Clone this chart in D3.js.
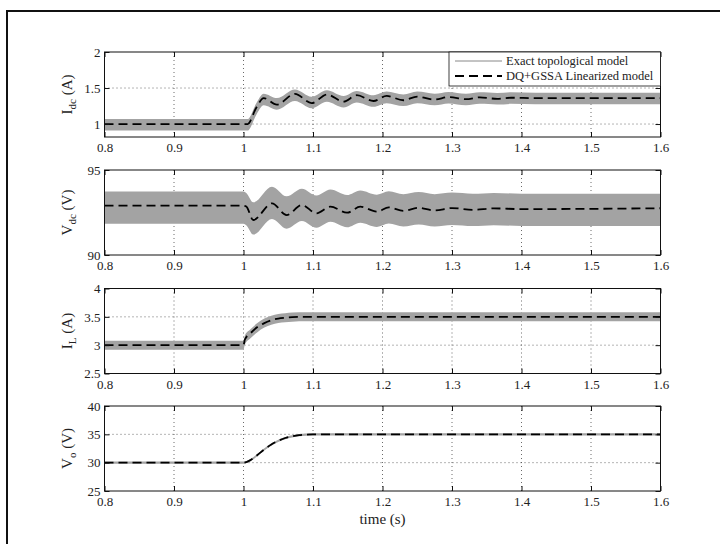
<!DOCTYPE html>
<html>
<head>
<meta charset="utf-8">
<script src="https://cdn.jsdelivr.net/npm/d3@7"></script>
<style>
    html, body { margin: 0; padding: 0; background: #fff; }
    svg { display: block; font-family: "Liberation Serif", "Times New Roman", serif; }
</style>
</head>
<body>
<div id="chart"></div>
<script>
/*
 * Shared time axis.
 */
var timeDomain = [0.8, 1.6];
var timeTicks  = [0.8, 0.9, 1.0, 1.1, 1.2, 1.3, 1.4, 1.5, 1.6];
var legendLabels = ['Exact topological model', 'DQ+GSSA Linearized model'];

/*
 * I_dc panel (A).
 */
var idcDomain = [0.82, 2];
var idcTicks  = [1, 1.5, 2];
var idcTime   = [0.8, 1.0, 1.006, 1.018, 1.029, 1.048, 1.074, 1.098, 1.12, 1.144, 1.163, 1.187, 1.206, 1.23, 1.25, 1.275, 1.295, 1.32, 1.34, 1.365, 1.385, 1.42, 1.6];
var idcModel  = [1.0, 1.0, 1.0, 1.22, 1.36, 1.27, 1.42, 1.29, 1.41, 1.31, 1.40, 1.32, 1.39, 1.33, 1.38, 1.34, 1.375, 1.345, 1.37, 1.35, 1.365, 1.36, 1.36];
var idcExact  = [0.99, 0.99, 0.99, 1.2, 1.34, 1.28, 1.4, 1.3, 1.39, 1.31, 1.38, 1.32, 1.37, 1.33, 1.37, 1.34, 1.365, 1.34, 1.36, 1.35, 1.36, 1.355, 1.355];
var idcRipple = 0.08;

/*
 * V_dc panel (V).
 */
var vdcDomain = [90, 95];
var vdcTicks  = [90, 95];
var vdcTime   = [0.8, 1.0, 1.004, 1.014, 1.041, 1.062, 1.084, 1.105, 1.125, 1.149, 1.168, 1.192, 1.209, 1.23, 1.252, 1.275, 1.3, 1.33, 1.36, 1.4, 1.6];
var vdcModel  = [92.9, 92.9, 92.85, 92.06, 93.04, 92.35, 92.94, 92.45, 92.84, 92.49, 92.84, 92.55, 92.8, 92.6, 92.78, 92.62, 92.76, 92.66, 92.74, 92.7, 92.75];
var vdcExact  = [92.79, 92.79, 92.7, 92.15, 93.07, 92.5, 92.95, 92.55, 92.9, 92.58, 92.85, 92.6, 92.8, 92.62, 92.75, 92.63, 92.72, 92.65, 92.7, 92.66, 92.66];
var vdcRipple = 0.95;

/*
 * I_L panel (A).
 */
var ilDomain = [2.5, 4];
var ilTicks  = [2.5, 3, 3.5, 4];
var ilTime   = [0.8, 1.0, 1.002, 1.01, 1.02, 1.03, 1.04, 1.05, 1.06, 1.07, 1.09, 1.6];
var ilModel  = [3.0, 3.0, 3.1, 3.21, 3.32, 3.39, 3.44, 3.47, 3.485, 3.495, 3.5, 3.5];
var ilExact  = [3.0, 3.0, 3.09, 3.2, 3.31, 3.39, 3.44, 3.47, 3.485, 3.495, 3.5, 3.5];
var ilRipple = 0.08;

/*
 * V_o panel (V).
 */
var voDomain = [25, 40];
var voTicks  = [25, 30, 35, 40];
var voTime   = [0.8, 1.0, 1.01, 1.02, 1.03, 1.04, 1.05, 1.06, 1.07, 1.08, 1.09, 1.1, 1.6];
var voModel  = [30, 30, 30.45, 31.35, 32.35, 33.2, 33.85, 34.35, 34.65, 34.85, 34.95, 35, 35];
var voExact  = [30, 30, 30.45, 31.35, 32.35, 33.2, 33.85, 34.35, 34.65, 34.85, 34.95, 35, 35];
var voRipple = 0.2;

/*
 * Panels description built from the arrays above.
 */
var panels = [
    { time: idcTime, model: idcModel, exact: idcExact, ripple: idcRipple, domain: idcDomain, ticks: idcTicks, label: ['I', 'dc', ' (A)'] },
    { time: vdcTime, model: vdcModel, exact: vdcExact, ripple: vdcRipple, domain: vdcDomain, ticks: vdcTicks, label: ['V', 'dc', ' (V)'] },
    { time: ilTime,  model: ilModel,  exact: ilExact,  ripple: ilRipple,  domain: ilDomain,  ticks: ilTicks,  label: ['I', 'L', ' (A)'] },
    { time: voTime,  model: voModel,  exact: voExact,  ripple: voRipple,  domain: voDomain,  ticks: voTicks,  label: ['V', 'o', ' (V)'] }
];

/*
 * Layout.
 */
var width = 720, height = 544;
var left = 104.5, right = 660.5;
var panelTops = [52, 170, 288.5, 406];
var panelHeight = 85;
var bandColor = '#a3a3a3';
var dash = '9,5';
var serif = '"Liberation Serif", "Times New Roman", serif';

var fmt = function(d) { return String(+d.toFixed(2)); };

var svg = d3.select('#chart').append('svg')
    .attr('width', width)
    .attr('height', height);

svg.append('rect')
    .attr('width', width)
    .attr('height', height)
    .attr('fill', '#fff');

/*
 * Page frame.
 */
svg.append('path')
    .attr('d', 'M7,' + height + 'V11H' + width)
    .attr('fill', 'none')
    .attr('stroke', '#111')
    .attr('stroke-width', 2);

var x = d3.scaleLinear().domain(timeDomain).range([left, right]);

/**
 * Draw one subplot.
 * @param {Object} p
 * @param {Integer} i
 */
function drawPanel(p, i) {
    var top = panelTops[i];
    var bottom = top + panelHeight;
    var y = d3.scaleLinear().domain(p.domain).range([bottom, top]);
    var g = svg.append('g');
    /*
     * Clip for the data marks.
     */
    svg.append('clipPath')
        .attr('id', 'clip' + i)
        .append('rect')
        .attr('x', left).attr('y', top)
        .attr('width', right - left).attr('height', panelHeight);
    /*
     * Dotted grid.
     */
    g.selectAll('.vgrid')
        .data(timeTicks.filter(function(t) { return t > timeDomain[0] && t < timeDomain[1]; }))
        .join('line')
        .attr('x1', function(d) { return x(d); })
        .attr('x2', function(d) { return x(d); })
        .attr('y1', top).attr('y2', bottom)
        .attr('stroke', '#444')
        .attr('stroke-width', 0.8)
        .attr('stroke-dasharray', '1,3');

    g.selectAll('.hgrid')
        .data(p.ticks.filter(function(v) { return v > p.domain[0] && v < p.domain[1]; }))
        .join('line')
        .attr('y1', function(d) { return y(d); })
        .attr('y2', function(d) { return y(d); })
        .attr('x1', left).attr('x2', right)
        .attr('stroke', '#444')
        .attr('stroke-width', 0.8)
        .attr('stroke-dasharray', '1,3');
    /*
     * Rows for the generators.
     */
    var rows = p.time.map(function(t, k) {
        return { t: t, m: p.model[k], e: p.exact[k] };
    });

    var marks = g.append('g').attr('clip-path', 'url(#clip' + i + ')');
    /*
     * Exact topological model: switching ripple band.
     */
    marks.append('path')
        .datum(rows)
        .attr('fill', bandColor)
        .attr('d', d3.area()
            .curve(d3.curveMonotoneX)
            .x(function(d) { return x(d.t); })
            .y0(function(d) { return y(d.e - p.ripple); })
            .y1(function(d) { return y(d.e + p.ripple); }));
    /*
     * DQ+GSSA linearized model.
     */
    marks.append('path')
        .datum(rows)
        .attr('fill', 'none')
        .attr('stroke', '#000')
        .attr('stroke-width', 1.8)
        .attr('stroke-dasharray', dash)
        .attr('d', d3.line()
            .curve(d3.curveMonotoneX)
            .x(function(d) { return x(d.t); })
            .y(function(d) { return y(d.m); }));
    /*
     * Axes box.
     */
    g.append('rect')
        .attr('x', left).attr('y', top)
        .attr('width', right - left).attr('height', panelHeight)
        .attr('fill', 'none')
        .attr('stroke', '#111')
        .attr('stroke-width', 1);
    /*
     * Inward ticks on all four sides.
     */
    var axes = [
        { axis: d3.axisBottom(x).tickValues(timeTicks).tickFormat(fmt).tickPadding(6), at: 'translate(0,' + bottom + ')' },
        { axis: d3.axisTop(x).tickValues(timeTicks).tickFormat(''), at: 'translate(0,' + top + ')' },
        { axis: d3.axisLeft(y).tickValues(p.ticks).tickFormat(fmt).tickPadding(4), at: 'translate(' + left + ',0)' },
        { axis: d3.axisRight(y).tickValues(p.ticks).tickFormat(''), at: 'translate(' + right + ',0)' }
    ];
    axes.forEach(function(a) {
        var ag = g.append('g')
            .attr('transform', a.at)
            .call(a.axis.tickSize(-5));
        ag.attr('font-family', serif)
            .attr('font-size', 13);
        ag.select('.domain').remove();
        ag.selectAll('line').attr('stroke', '#111');
        ag.selectAll('text')
            .attr('fill', '#222')
            .style('font-family', serif)
            .style('font-size', '13px');
    });
    /*
     * Rotated y label with subscript.
     */
    var label = g.append('text')
        .attr('transform', 'translate(72,' + (top + panelHeight / 2) + ') rotate(-90)')
        .attr('text-anchor', 'middle')
        .attr('fill', '#222')
        .style('font-size', '15px');
    label.append('tspan').text(p.label[0]);
    label.append('tspan').attr('dy', 4).style('font-size', '11px').text(p.label[1]);
    label.append('tspan').attr('dy', -4).text(p.label[2]);
}

panels.forEach(drawPanel);

/*
 * X axis title.
 */
svg.append('text')
    .attr('x', (left + right) / 2)
    .attr('y', 524)
    .attr('text-anchor', 'middle')
    .attr('fill', '#222')
    .style('font-size', '15px')
    .text('time (s)');

/*
 * Legend in the first panel.
 */
var legend = svg.append('g');
legend.append('rect')
    .attr('x', 449).attr('y', panelTops[0])
    .attr('width', right - 449).attr('height', 34)
    .attr('fill', '#fff')
    .attr('stroke', '#111')
    .attr('stroke-width', 0.8);

legendLabels.forEach(function(name, k) {
    var cy = panelTops[0] + 9 + k * 15;
    legend.append('line')
        .attr('x1', 455).attr('x2', 502)
        .attr('y1', cy).attr('y2', cy)
        .attr('stroke', k === 0 ? '#888' : '#000')
        .attr('stroke-width', k === 0 ? 1 : 1.8)
        .attr('stroke-dasharray', k === 0 ? null : dash);
    legend.append('text')
        .attr('x', 506)
        .attr('y', cy + 4)
        .attr('fill', '#222')
        .style('font-size', '12.5px')
        .text(name);
});
</script>
</body>
</html>
